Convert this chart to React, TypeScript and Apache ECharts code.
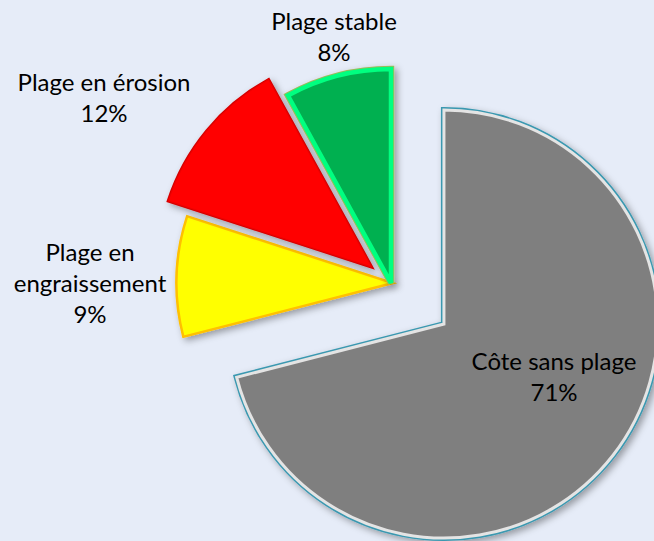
import React, { useEffect, useRef } from "react";
import * as echarts from "echarts";

const categories = ["Côte sans plage", "Plage en\nengraissement", "Plage en érosion", "Plage stable"];
const values = [71, 9, 12, 8];

// styling / layout (not data)
const fillColors = ["#7F7F7F", "#FFFF00", "#FF0000", "#00B050"];
const outerBorder = ["#3A98B0", "#FFC000", "#D40000", "#9BBB59"];
const innerBorder = ["#E4E4E4", "#FFC000", "#F00000", "#00FF80"];
const innerWidth = [3, 1.5, 1, 4.5];
const outerExtra = [3, 2, 2, 2];
const explode = [67, 0, 25, 0];
const labelPos: [number, number][] = [
  [554, 376],
  [90, 282],
  [104, 97],
  [334, 36],
];
const baseCenter = [391, 283];
const radius = 214;
const drawOrder = [1, 2, 3, 0];

export default function App() {
  const ref = useRef<HTMLDivElement>(null);
  useEffect(() => {
    if (!ref.current) return;
    document.body.style.margin = "0";
    const chart = echarts.init(ref.current, undefined, { renderer: "svg" });
    const total = values.reduce((a, b) => a + b, 0);
    const cum: number[] = [];
    let acc = 0;
    values.forEach((v) => {
      cum.push(acc);
      acc += v;
    });
    const centerOf = (i: number) => {
      const mid = ((cum[i] + values[i] / 2) / total) * Math.PI * 2;
      return [baseCenter[0] + explode[i] * Math.sin(mid), baseCenter[1] - explode[i] * Math.cos(mid)];
    };
    const series: any[] = [];
    drawOrder.forEach((i) => {
      const c = centerOf(i);
      for (const layer of ["base", "top"]) {
        const isTop = layer === "top";
        series.push({
          type: "pie",
          silent: true,
          center: c,
          radius: radius,
          startAngle: 90,
          clockwise: true,
          avoidLabelOverlap: false,
          emphasis: { disabled: true },
          labelLine: { show: false },
          label: { show: false },
          labelLayout: isTop
            ? (p: any) => ({
                x: labelPos[p.dataIndex][0],
                y: labelPos[p.dataIndex][1],
                align: "center",
                verticalAlign: "middle",
              })
            : undefined,
          data: categories.map((name, j) => {
            const visible = j === i;
            return {
              name,
              value: values[j],
              itemStyle: visible
                ? isTop
                  ? {
                      color: fillColors[j],
                      borderColor: innerBorder[j],
                      borderWidth: innerWidth[j],
                      borderJoin: "miter",
                    }
                  : {
                      color: fillColors[j],
                      borderColor: outerBorder[j],
                      borderWidth: innerWidth[j] + outerExtra[j],
                      borderJoin: "miter",
                      shadowBlur: 7,
                      shadowOffsetX: 3,
                      shadowOffsetY: 3,
                      shadowColor: "rgba(0,0,0,0.35)",
                    }
                : { color: "transparent", borderWidth: 0 },
              label:
                visible && isTop
                  ? {
                      show: true,
                      position: "inside",
                      formatter: "{b}\n{d}%",
                      fontFamily: "Lato",
                      fontSize: 24,
                      lineHeight: 31,
                      color: "#000",
                      align: "center",
                    }
                  : { show: false },
            };
          }),
        });
      }
    });
    chart.setOption({
      animation: false,
      backgroundColor: "#E6ECF8",
      tooltip: { show: false },
      series,
    });
    return () => chart.dispose();
  }, []);
  return <div ref={ref} style={{ width: 654, height: 541 }} />;
}
